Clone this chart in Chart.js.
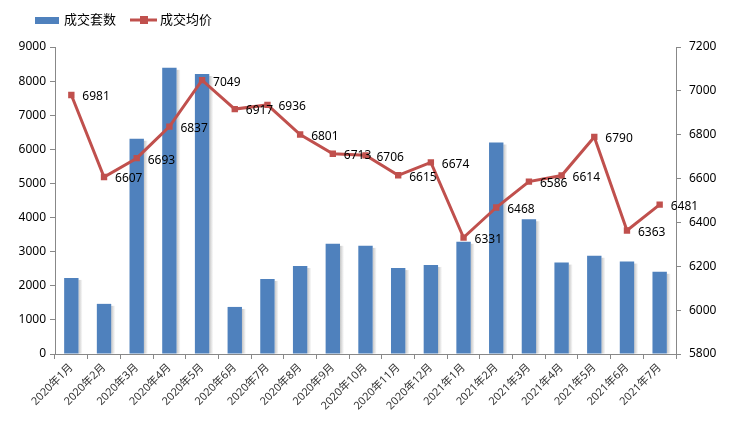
<!DOCTYPE html>
<html>
<head>
<meta charset="utf-8">
<script src="https://cdn.jsdelivr.net/npm/chart.js@4.4.1/dist/chart.umd.min.js"></script>
<style>
  body { margin: 0; background: #fff; }
</style>
</head>
<body>
<canvas id="myChart" width="730" height="429"></canvas>
<script>
const months = ['2020年1月','2020年2月','2020年3月','2020年4月','2020年5月','2020年6月','2020年7月','2020年8月','2020年9月','2020年10月','2020年11月','2020年12月','2021年1月','2021年2月','2021年3月','2021年4月','2021年5月','2021年6月','2021年7月']
const volume = [2230, 1470, 6310, 8390, 8210, 1380, 2200, 2580, 3230, 3170, 2520, 2610, 3290, 6200, 3950, 2680, 2880, 2710, 2410]
const price = [6981, 6607, 6693, 6837, 7049, 6917, 6936, 6801, 6713, 6706, 6615, 6674, 6331, 6468, 6586, 6614, 6790, 6363, 6481]
const leftTicks = [0, 9000, 1000]
const rightTicks = [5800, 7200, 200]

const blue = '#4F81BD'
const red = '#C0504D'
const font = '"Noto Sans", "Noto Sans CJK SC", sans-serif'

// labels to the right of each price point
const priceLabels = {
    id: 'priceLabels',
    afterDatasetsDraw(chart) {
        const c = chart.ctx
        const meta = chart.getDatasetMeta(1)
        c.save()
        c.font = '12px ' + font
        c.fillStyle = '#000'
        c.textAlign = 'left'
        c.textBaseline = 'middle'
        meta.data.forEach((pt, i) => {
            c.fillText(price[i], pt.x + 11, pt.y + 2)
        })
        c.restore()
    }
}

// legend drawn by hand (line with square marker)
const legendBox = {
    id: 'legendBox',
    afterDraw(chart) {
        const c = chart.ctx
        c.save()
        c.fillStyle = blue
        c.fillRect(35, 17, 24, 7)
        c.font = '13px ' + font
        c.fillStyle = '#000'
        c.textBaseline = 'middle'
        c.fillText('成交套数', 64, 20)
        c.strokeStyle = red
        c.lineWidth = 3
        c.beginPath()
        c.moveTo(130, 20)
        c.lineTo(157, 20)
        c.stroke()
        c.fillStyle = red
        c.fillRect(140, 16, 8, 8)
        c.fillStyle = '#000'
        c.fillText('成交均价', 160, 20)
        c.restore()
    }
}

// soft shadow on the right of each bar
const barShadow = {
    id: 'barShadow',
    beforeDatasetDraw(chart, args) {
        if (args.index !== 0) return
        const c = chart.ctx
        c.save()
        args.meta.data.forEach(bar => {
            const w = bar.width
            const left = bar.x + w / 2
            const g = c.createLinearGradient(left, 0, left + 4, 0)
            g.addColorStop(0, 'rgba(150,150,150,0.55)')
            g.addColorStop(1, 'rgba(150,150,150,0)')
            c.fillStyle = g
            c.fillRect(left, bar.y + 2, 4, bar.base - bar.y - 2)
        })
        c.restore()
    }
}

const plain = v => String(v)

new Chart(document.getElementById('myChart'), {
    data: {
        labels: months,
        datasets: [{
            type: 'bar',
            label: '成交套数',
            data: volume,
            backgroundColor: blue,
            yAxisID: 'y',
            barPercentage: 0.88,
            categoryPercentage: 0.5,
            order: 2
        }, {
            type: 'line',
            label: '成交均价',
            data: price,
            borderColor: red,
            borderWidth: 3,
            backgroundColor: red,
            pointStyle: 'rect',
            pointRadius: 4.5,
            pointHoverRadius: 4.5,
            pointBorderWidth: 0,
            yAxisID: 'y1',
            tension: 0,
            order: 1
        }]
    },
    options: {
        responsive: false,
        animation: false,
        devicePixelRatio: 1,
        layout: { padding: { top: 47, left: 0, right: 0, bottom: 0 } },
        plugins: { legend: { display: false }, tooltip: { enabled: false } },
        scales: {
            x: {
                offset: true,
                grid: { display: true, drawOnChartArea: false, offset: true, tickLength: 5, color: '#888' },
                border: { color: '#888', width: 1 },
                ticks: { maxRotation: 45, minRotation: 45, autoSkip: false, color: '#333', font: { size: 11, family: font }, padding: 2 },
                afterFit(s) { s.height = 75 }
            },
            y: {
                position: 'left',
                min: leftTicks[0], max: leftTicks[1],
                grid: { drawOnChartArea: false, tickLength: 5, color: '#888' },
                border: { color: '#888', width: 1 },
                ticks: { stepSize: leftTicks[2], color: '#000', font: { size: 12, family: font }, padding: 4, callback: plain },
                afterFit(s) { s.width = 55 }
            },
            y1: {
                position: 'right',
                min: rightTicks[0], max: rightTicks[1],
                grid: { drawOnChartArea: false, tickLength: 5, color: '#888' },
                border: { color: '#888', width: 1 },
                ticks: { stepSize: rightTicks[2], color: '#000', font: { size: 12, family: font }, padding: 8, callback: plain },
                afterFit(s) { s.width = 54 }
            }
        }
    },
    plugins: [barShadow, priceLabels, legendBox]
});
</script>
</body>
</html>
